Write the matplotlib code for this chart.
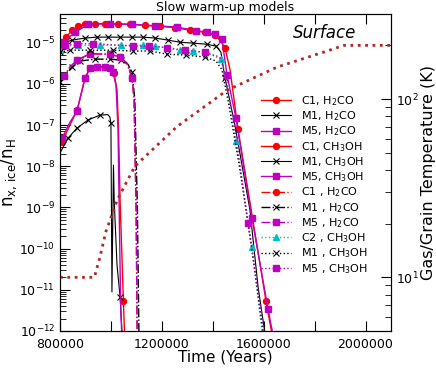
import matplotlib
matplotlib.use('Agg')
import matplotlib.pyplot as plt
import numpy as np
from matplotlib.ticker import LogLocator, NullFormatter

plt.rcParams['font.family'] = ['DejaVu Sans']
plt.rcParams['mathtext.default'] = 'regular'

# --- values (time in years, abundance n_x/n_H) ---

# solid lines, H2CO (early desorption)
t_c1_h2co = [800000, 808000, 839000, 867000, 882000, 898000, 918000, 945000, 977000,
             996000, 1012000, 1024000, 1030000, 1036000, 1049000, 1053000, 1058000]
n_c1_h2co = [3e-8, 3.9e-8, 1e-7, 2.3e-7, 5.4e-7, 1.38e-6, 2.4e-6, 2.6e-6, 2.6e-6,
             2.4e-6, 1.83e-6, 7.1e-7, 7.6e-8, 1.5e-9, 5.4e-12, 1e-12, 2e-13]

t_m1_h2co = [800000, 831000, 867000, 910000, 957000, 988000, 996000, 1000000, 1004000,
             1010000, 1013000, 1024000, 1036000, 1046000]
n_m1_h2co = [2.1e-8, 4.8e-8, 8.5e-8, 1.33e-7, 1.75e-7, 1.8e-7, 1.56e-7, 1.12e-7, 8.9e-12,
             1.07e-8, 1.4e-9, 4e-11, 6.7e-12, 5e-13]

t_m5_h2co = [808000, 839000, 867000, 898000, 918000, 945000, 977000, 996000, 1008000,
             1020000, 1028000, 1032000, 1038000, 1042000, 1045000]
n_m5_h2co = [4.8e-8, 1.17e-7, 2.2e-7, 1.38e-6, 2.5e-6, 2.6e-6, 2.6e-6, 2.4e-6, 1.9e-6,
             9.3e-7, 7.6e-8, 1.5e-9, 5e-12, 1e-12, 2e-13]

# solid lines, CH3OH
t_c1_ch3oh = [800000, 824000, 847000, 871000, 898000, 937000, 977000, 1028000, 1075000,
              1134000, 1193000, 1252000, 1311000, 1370000, 1409000, 1432000, 1448000,
              1468000, 1499000, 1554000, 1609000, 1640000]
n_c1_ch3oh = [9.2e-6, 1.37e-5, 2.0e-5, 2.5e-5, 2.9e-5, 2.9e-5, 2.9e-5, 2.85e-5, 2.8e-5,
              2.65e-5, 2.5e-5, 2.33e-5, 2.02e-5, 1.8e-5, 1.53e-5, 1.08e-5, 7.4e-6,
              2.2e-6, 8e-8, 6.6e-10, 5.4e-12, 4.6e-13]

t_m1_ch3oh = [800000, 847000, 898000, 945000, 989000, 1036000, 1083000, 1126000, 1173000,
              1224000, 1271000, 1322000, 1377000, 1413000, 1432000, 1448000, 1487000,
              1546000, 1578000, 1609000]
n_m1_ch3oh = [9.2e-6, 1.16e-5, 1.3e-5, 1.37e-5, 1.37e-5, 1.37e-5, 1.37e-5, 1.37e-5, 1.3e-5,
              1.16e-5, 1.03e-5, 9.8e-6, 9.2e-6, 8.3e-6, 5.9e-6, 1.38e-6, 1e-7,
              8.7e-10, 1.17e-11, 6e-13]

t_m5_ch3oh = [800000, 812000, 859000, 910000, 996000, 1083000, 1173000, 1259000, 1334000,
              1377000, 1409000, 1436000, 1456000, 1491000, 1554000, 1617000, 1648000]
n_m5_ch3oh = [8.7e-6, 1.03e-5, 1.8e-5, 2.8e-5, 2.9e-5, 2.8e-5, 2.6e-5, 2.4e-5, 1.97e-5,
              1.8e-5, 1.6e-5, 1.22e-5, 1.64e-6, 1.48e-7, 5.5e-10, 3.4e-12, 3.5e-13]

# dash-dot lines, H2CO
t_m5_h2co_b = [800000, 816000, 839000, 867000, 918000, 996000, 1036000, 1063000, 1083000,
               1091000, 1099000, 1103000, 1105000]
n_m5_h2co_b = [1.24e-6, 1.55e-6, 2.56e-6, 3.8e-6, 5.4e-6, 5.3e-6, 4.5e-6, 3.2e-6, 1.38e-6,
               4.1e-7, 8.7e-10, 1e-12, 2e-13]
t_c1_h2co_b = t_m5_h2co_b          # lies under the M5 curve
n_c1_h2co_b = n_m5_h2co_b

t_m1_h2co_b = [800000, 824000, 847000, 879000, 937000, 996000, 1040000, 1067000, 1083000,
               1094000, 1104000, 1110000, 1112000]
n_m1_h2co_b = [1.1e-6, 1.73e-6, 2.56e-6, 3.6e-6, 4e-6, 4e-6, 3.8e-6, 3e-6, 1.93e-6,
               4.1e-7, 8.7e-10, 1e-12, 2e-13]

# dotted lines, CH3OH
t_c2_ch3oh_c = [800000, 824000, 871000, 957000, 1040000, 1126000, 1173000, 1220000, 1271000,
                1322000, 1381000, 1413000, 1432000, 1452000, 1491000, 1554000, 1593000, 1609000]
n_c2_ch3oh_c = [6.6e-6, 8.3e-6, 8.7e-6, 8.7e-6, 8.7e-6, 8.7e-6, 8.3e-6, 7.4e-6, 6.6e-6,
                6.3e-6, 5.6e-6, 5e-6, 4e-6, 1.24e-6, 4.1e-8, 1.1e-10, 1e-12, 2e-13]

t_m1_ch3oh_c = [800000, 839000, 918000, 1008000, 1087000, 1153000, 1220000, 1295000, 1369000,
                1413000, 1436000, 1460000, 1507000, 1554000, 1597000, 1613000]
n_m1_ch3oh_c = [5.9e-6, 6.6e-6, 6.6e-6, 6.6e-6, 6.3e-6, 6.3e-6, 5.3e-6, 5.0e-6, 4.5e-6,
                3.6e-6, 2.2e-6, 4e-7, 8.1e-9, 9.3e-11, 1e-12, 2e-13]

t_m5_ch3oh_c = [800000, 820000, 867000, 930000, 1086000, 1149000, 1220000, 1291000, 1369000,
                1413000, 1432000, 1452000, 1491000, 1538000, 1601000, 1617000]
n_m5_ch3oh_c = [7.4e-6, 8.7e-6, 9.5e-6, 9.5e-6, 8.3e-6, 8.3e-6, 7.6e-6, 6.6e-6, 5.9e-6,
                4.6e-6, 4.2e-6, 1.4e-6, 5.7e-8, 4.2e-10, 1e-12, 2e-13]

# gas/grain temperature (K)
t_temp = [800000, 935000, 957000, 980000, 1024000, 1094000, 1259000, 1456000, 1652000,
          1849000, 1915000, 2100000]
T_temp = [10, 10, 13, 18, 27, 42, 70, 112, 151, 186, 200, 200]

x_ticks = [800000, 1000000, 1200000, 1400000, 1600000, 1800000, 2000000]
x_labels = ['800000', '', '1200000', '', '1600000', '', '2000000']

fig = plt.figure(figsize=(4.36, 3.74), dpi=100)
ax = fig.add_axes([0.1376, 0.115, 0.7592, 0.8476])

ms = 4.3
ax.plot(t_c1_h2co, n_c1_h2co, '-', color='r', marker='o', ms=ms, lw=1,
        markevery=[1, 3, 5, 6, 7, 8, 9, 10, 14], label=r'C1, H$_2$CO')
ax.plot(t_m1_h2co, n_m1_h2co, '-', color='k', marker='x', ms=ms, lw=0.8, mew=0.8,
        markevery=[1, 2, 3, 4, 7, 12], label=r'M1, H$_2$CO')
ax.plot(t_m5_h2co, n_m5_h2co, '-', color='m', marker='s', ms=ms, lw=1,
        markevery=[0, 2, 3, 4, 5, 6, 7, 8], label=r'M5, H$_2$CO')
ax.plot(t_c1_ch3oh, n_c1_ch3oh, '-', color='r', marker='o', ms=ms, lw=1,
        markevery=list(range(15)) + [16, 18, 20], label=r'C1, CH$_3$OH')
ax.plot(t_m1_ch3oh, n_m1_ch3oh, '-', color='k', marker='x', ms=ms, lw=0.8, mew=0.8,
        markevery=list(range(14)) + [15], label=r'M1, CH$_3$OH')
ax.plot(t_m5_ch3oh, n_m5_ch3oh, '-', color='m', marker='s', ms=ms, lw=1,
        markevery=list(range(16)), label=r'M5, CH$_3$OH')
ax.plot(t_c1_h2co_b, n_c1_h2co_b, '-.', color='r', marker='o', ms=ms, lw=1,
        markevery=[1, 3, 4, 5, 6, 8], label=r'C1 , H$_2$CO')
ax.plot(t_m1_h2co_b, n_m1_h2co_b, '-.', color='k', marker='x', ms=ms, lw=1, mew=0.8,
        markevery=[0, 2, 3, 4, 5, 6, 8], label=r'M1 , H$_2$CO')
ax.plot(t_m5_h2co_b, n_m5_h2co_b, '-.', color='m', marker='s', ms=ms, lw=1,
        markevery=[1, 3, 4, 5, 6, 8], label=r'M5 , H$_2$CO')
ax.plot(t_c2_ch3oh_c, n_c2_ch3oh_c, ':', color='c', marker='^', ms=ms, lw=1,
        markevery=[0, 2, 3, 4, 5, 6, 8, 9, 12, 14, 15], label=r'C2 , CH$_3$OH')
ax.plot(t_m1_ch3oh_c, n_m1_ch3oh_c, ':', color='k', marker='x', ms=ms, lw=1, mew=0.8,
        markevery=list(range(9)), label=r'M1 , CH$_3$OH')
ax.plot(t_m5_ch3oh_c, n_m5_ch3oh_c, ':', color='m', marker='s', ms=ms, lw=1,
        markevery=[1, 2, 3, 4, 5, 6, 7, 8, 13], label=r'M5 , CH$_3$OH')

ax.set_yscale('log')
ax.set_xlim(800000, 2100000)
ax.set_ylim(1e-12, 5e-5)
ax.yaxis.set_major_locator(LogLocator(base=10, numticks=20))
ax.yaxis.set_minor_locator(LogLocator(base=10, subs=np.arange(2, 10), numticks=20))
ax.yaxis.set_minor_formatter(NullFormatter())
ax.set_xticks(x_ticks)
ax.set_xticklabels(x_labels)
ax.tick_params(which='both', direction='in', top=True, labelsize=9)
ax.tick_params(which='major', length=7)
ax.tick_params(which='minor', length=4)
ax.tick_params(axis='x', pad=5)
ax.set_xlabel('Time (Years)', fontsize=11, labelpad=-1)
ax.set_ylabel(r'n$_{x,\,ice}$/n$_H$', fontsize=12, labelpad=0)
ax.set_title('Slow warm-up models', fontsize=9, pad=2)
ax.text(0.80, 0.94, 'Surface', transform=ax.transAxes, fontsize=12, style='italic',
        ha='center', va='center')

leg = ax.legend(loc='upper left', bbox_to_anchor=(0.585, 0.772), frameon=False, fontsize=8,
                handlelength=2.7, handletextpad=0.9, labelspacing=0.13, borderpad=0.2)
for line in leg.get_lines():
    line.set_markevery([1])

ax2 = ax.twinx()
ax2.plot(t_temp, T_temp, ':', color='#b02828', lw=2)
ax2.set_yscale('log')
ax2.set_ylim(5, 300)
ax2.yaxis.set_minor_formatter(NullFormatter())
ax2.tick_params(which='both', direction='in', labelsize=9)
ax2.tick_params(which='major', length=7)
ax2.tick_params(which='minor', length=4)
ax2.set_ylabel('Gas/Grain Temperature (K)', fontsize=11.5, labelpad=2)

fig.savefig('out.png', dpi=100)
